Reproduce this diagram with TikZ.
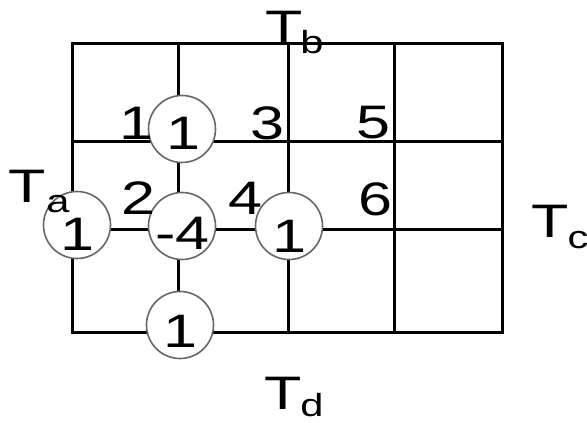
\documentclass[tikz,border=0pt]{standalone}
\usepackage{fontspec}
\newfontfamily\labfont[FakeStretch=1.3]{Liberation Sans}
\begin{document}
\begin{tikzpicture}[x=1pt,y=-1pt,
  gridline/.style={line width=3pt,black,line cap=rect},
  ring/.style={circle,draw=black!60,line width=1.6pt,fill=white,minimum size=67pt,inner sep=0pt},
  big/.style={inner sep=0pt,font=\labfont\fontsize{47}{47}\selectfont},
  small/.style={inner sep=0pt,font=\labfont\fontsize{32}{32}\selectfont}]
\useasboundingbox (0,0) rectangle (587,423);
% grid
\draw[gridline] (72,43) rectangle (502,332);
\foreach \x in {178,288,394} \draw[gridline] (\x,43) -- (\x,332);
\foreach \y in {141,229} \draw[gridline] (72,\y) -- (502,\y);
% circles
\node[ring] (ctop) at (182,129) {};
\node[ring] (cleft) at (77,225) {};
\node[ring] (cmid) at (182,226) {};
\node[ring] (cright) at (289,226) {};
\node[ring] (cbot) at (180,325) {};
% circle values
\node[big] (vtop) at (183,133) {1};
\node[big] (vleft) at (77,234) {1};
\node[big] (vmid) at (182.5,233.5) {-4};
\node[big] (vright) at (289,236) {1};
\node[big] (vbot) at (180,331) {1};
% point numbers
\node[big] (n1) at (136,123) {1};
\node[big] (n3) at (267,123) {3};
\node[big] (n5) at (373,123) {5};
\node[big] (n2) at (138,198) {2};
\node[big] (n4) at (245,198) {4};
\node[big] (n6) at (375,199) {6};
% boundary temperatures
\node[big] (Tb) at (284,27) {T};
\node[small] (Tbs) at (312,42) {b};
\node[big] (Ta) at (27.5,186) {T};
\node[small] (Tas) at (58,204) {a};
\node[big] (Tc) at (550,221.5) {T};
\node[small] (Tcs) at (578,240) {c};
\node[big] (Td) at (283.5,393) {T};
\node[small] (Tds) at (312,405) {d};
\end{tikzpicture}
\end{document}
